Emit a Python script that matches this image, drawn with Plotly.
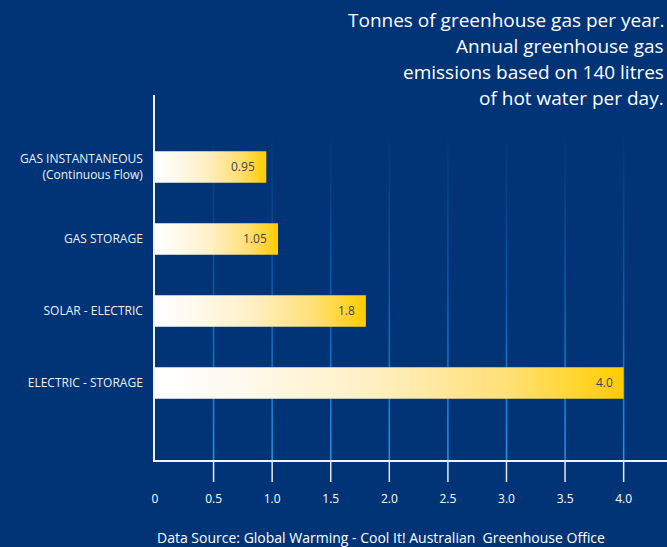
import plotly.graph_objects as go

categories = ["GAS INSTANTANEOUS<br>(Continuous Flow)", "GAS STORAGE", "SOLAR - ELECTRIC", "ELECTRIC - STORAGE"]
values = [0.95, 1.05, 1.8, 4.0]
value_labels = ["0.95", "1.05", "1.8", "4.0"]
x_ticks = [0, 0.5, 1.0, 1.5, 2.0, 2.5, 3.0, 3.5, 4.0]
x_tick_labels = ["0", "0.5", "1.0", "1.5", "2.0", "2.5", "3.0", "3.5", "4.0"]
title_lines = ["Tonnes of greenhouse gas per year.", "Annual greenhouse gas",
               "emissions based on 140 litres", "of hot water per day."]
source_text = "Data Source: Global Warming - Cool It! Australian  Greenhouse Office"

BG = "#003476"
FONT = "Open Sans"
X_MAX = 4.37
Y_RANGE = [4.07, -1.0]
HALF = 0.22
bar_scale = [[0, "#ffffff"], [0.15, "#fffbf2"], [0.45, "#fff0c6"],
             [0.75, "#ffe077"], [0.9, "#ffd52e"], [1, "#ffcc00"]]

fig = go.Figure()

# fading vertical gridlines
gx, gy = [], []
gw = 0.0065
for t in x_ticks[1:]:
    gx += [t - gw, t + gw, t + gw, t - gw, t - gw, None]
    gy += [Y_RANGE[1], Y_RANGE[1], Y_RANGE[0], Y_RANGE[0], Y_RANGE[1], None]
fig.add_trace(go.Scatter(
    x=gx, y=gy, mode="lines", line=dict(width=0), fill="toself",
    fillgradient=dict(type="vertical", start=Y_RANGE[1], stop=Y_RANGE[0],
                      colorscale=[[0, BG], [0.1, BG], [0.5, "#0e56a0"], [1, "#2a93dc"]]),
    hoverinfo="skip", showlegend=False))

# gradient bars
for i, v in enumerate(values):
    fig.add_trace(go.Scatter(
        x=[0, v, v, 0, 0], y=[i - HALF, i - HALF, i + HALF, i + HALF, i - HALF],
        mode="lines", line=dict(width=0), fill="toself",
        fillgradient=dict(type="horizontal", start=0, stop=v, colorscale=bar_scale),
        hoverinfo="skip", showlegend=False))
    fig.add_annotation(x=v, y=i, text=value_labels[i], showarrow=False,
                       xanchor="right", xshift=-9, yanchor="middle",
                       font=dict(family=FONT, size=12, color="#3b4657"))

# y tick marks at bar bottoms
for i in range(len(values)):
    fig.add_shape(type="line", xref="x", yref="y", xsizemode="pixel", xanchor=0,
                  x0=-21, x1=0, y0=i + HALF, y1=i + HALF,
                  line=dict(color="#e6e9f0", width=1.5))
# x tick marks (none at 0)
for t in x_ticks[1:]:
    fig.add_shape(type="line", xref="x", yref="paper", ysizemode="pixel", yanchor=0,
                  x0=t, x1=t, y0=0, y1=-22, line=dict(color="#e6e9f0", width=1.5))

for k, line in enumerate(title_lines):
    fig.add_annotation(xref="paper", yref="paper", x=1.0, y=1.0, xanchor="right", yanchor="middle",
                       xshift=-1, yshift=75 - 26 * k, showarrow=False, text=line,
                       font=dict(family=FONT, size=19, color="white"))
fig.add_annotation(xref="paper", yref="paper", x=0, y=0, xanchor="left", yanchor="top",
                   yshift=-66, showarrow=False, text=source_text,
                   font=dict(family=FONT, size=14, color="white"))

fig.update_layout(
    width=667, height=547, paper_bgcolor=BG, plot_bgcolor=BG,
    margin=dict(l=155, r=0, t=95, b=87),
    showlegend=False,
    xaxis=dict(range=[0, X_MAX], showgrid=False, zeroline=False, showline=True,
               linecolor="#f0f2f6", linewidth=1.5, tickvals=x_ticks, ticktext=x_tick_labels,
               ticks="", ticklabelstandoff=27,
               tickfont=dict(family=FONT, size=12, color="white")),
    yaxis=dict(range=Y_RANGE, showgrid=False, zeroline=False, showline=True,
               linecolor="#f0f2f6", linewidth=1.5, tickvals=list(range(len(categories))),
               ticktext=categories, ticks="", ticklabelstandoff=8,
               tickfont=dict(family=FONT, size=12, color="#eef1f6")),
)

fig.write_html("out.html", config={"displayModeBar": False},
               post_script="document.body.style.margin='0';document.body.style.background='%s';" % BG)
